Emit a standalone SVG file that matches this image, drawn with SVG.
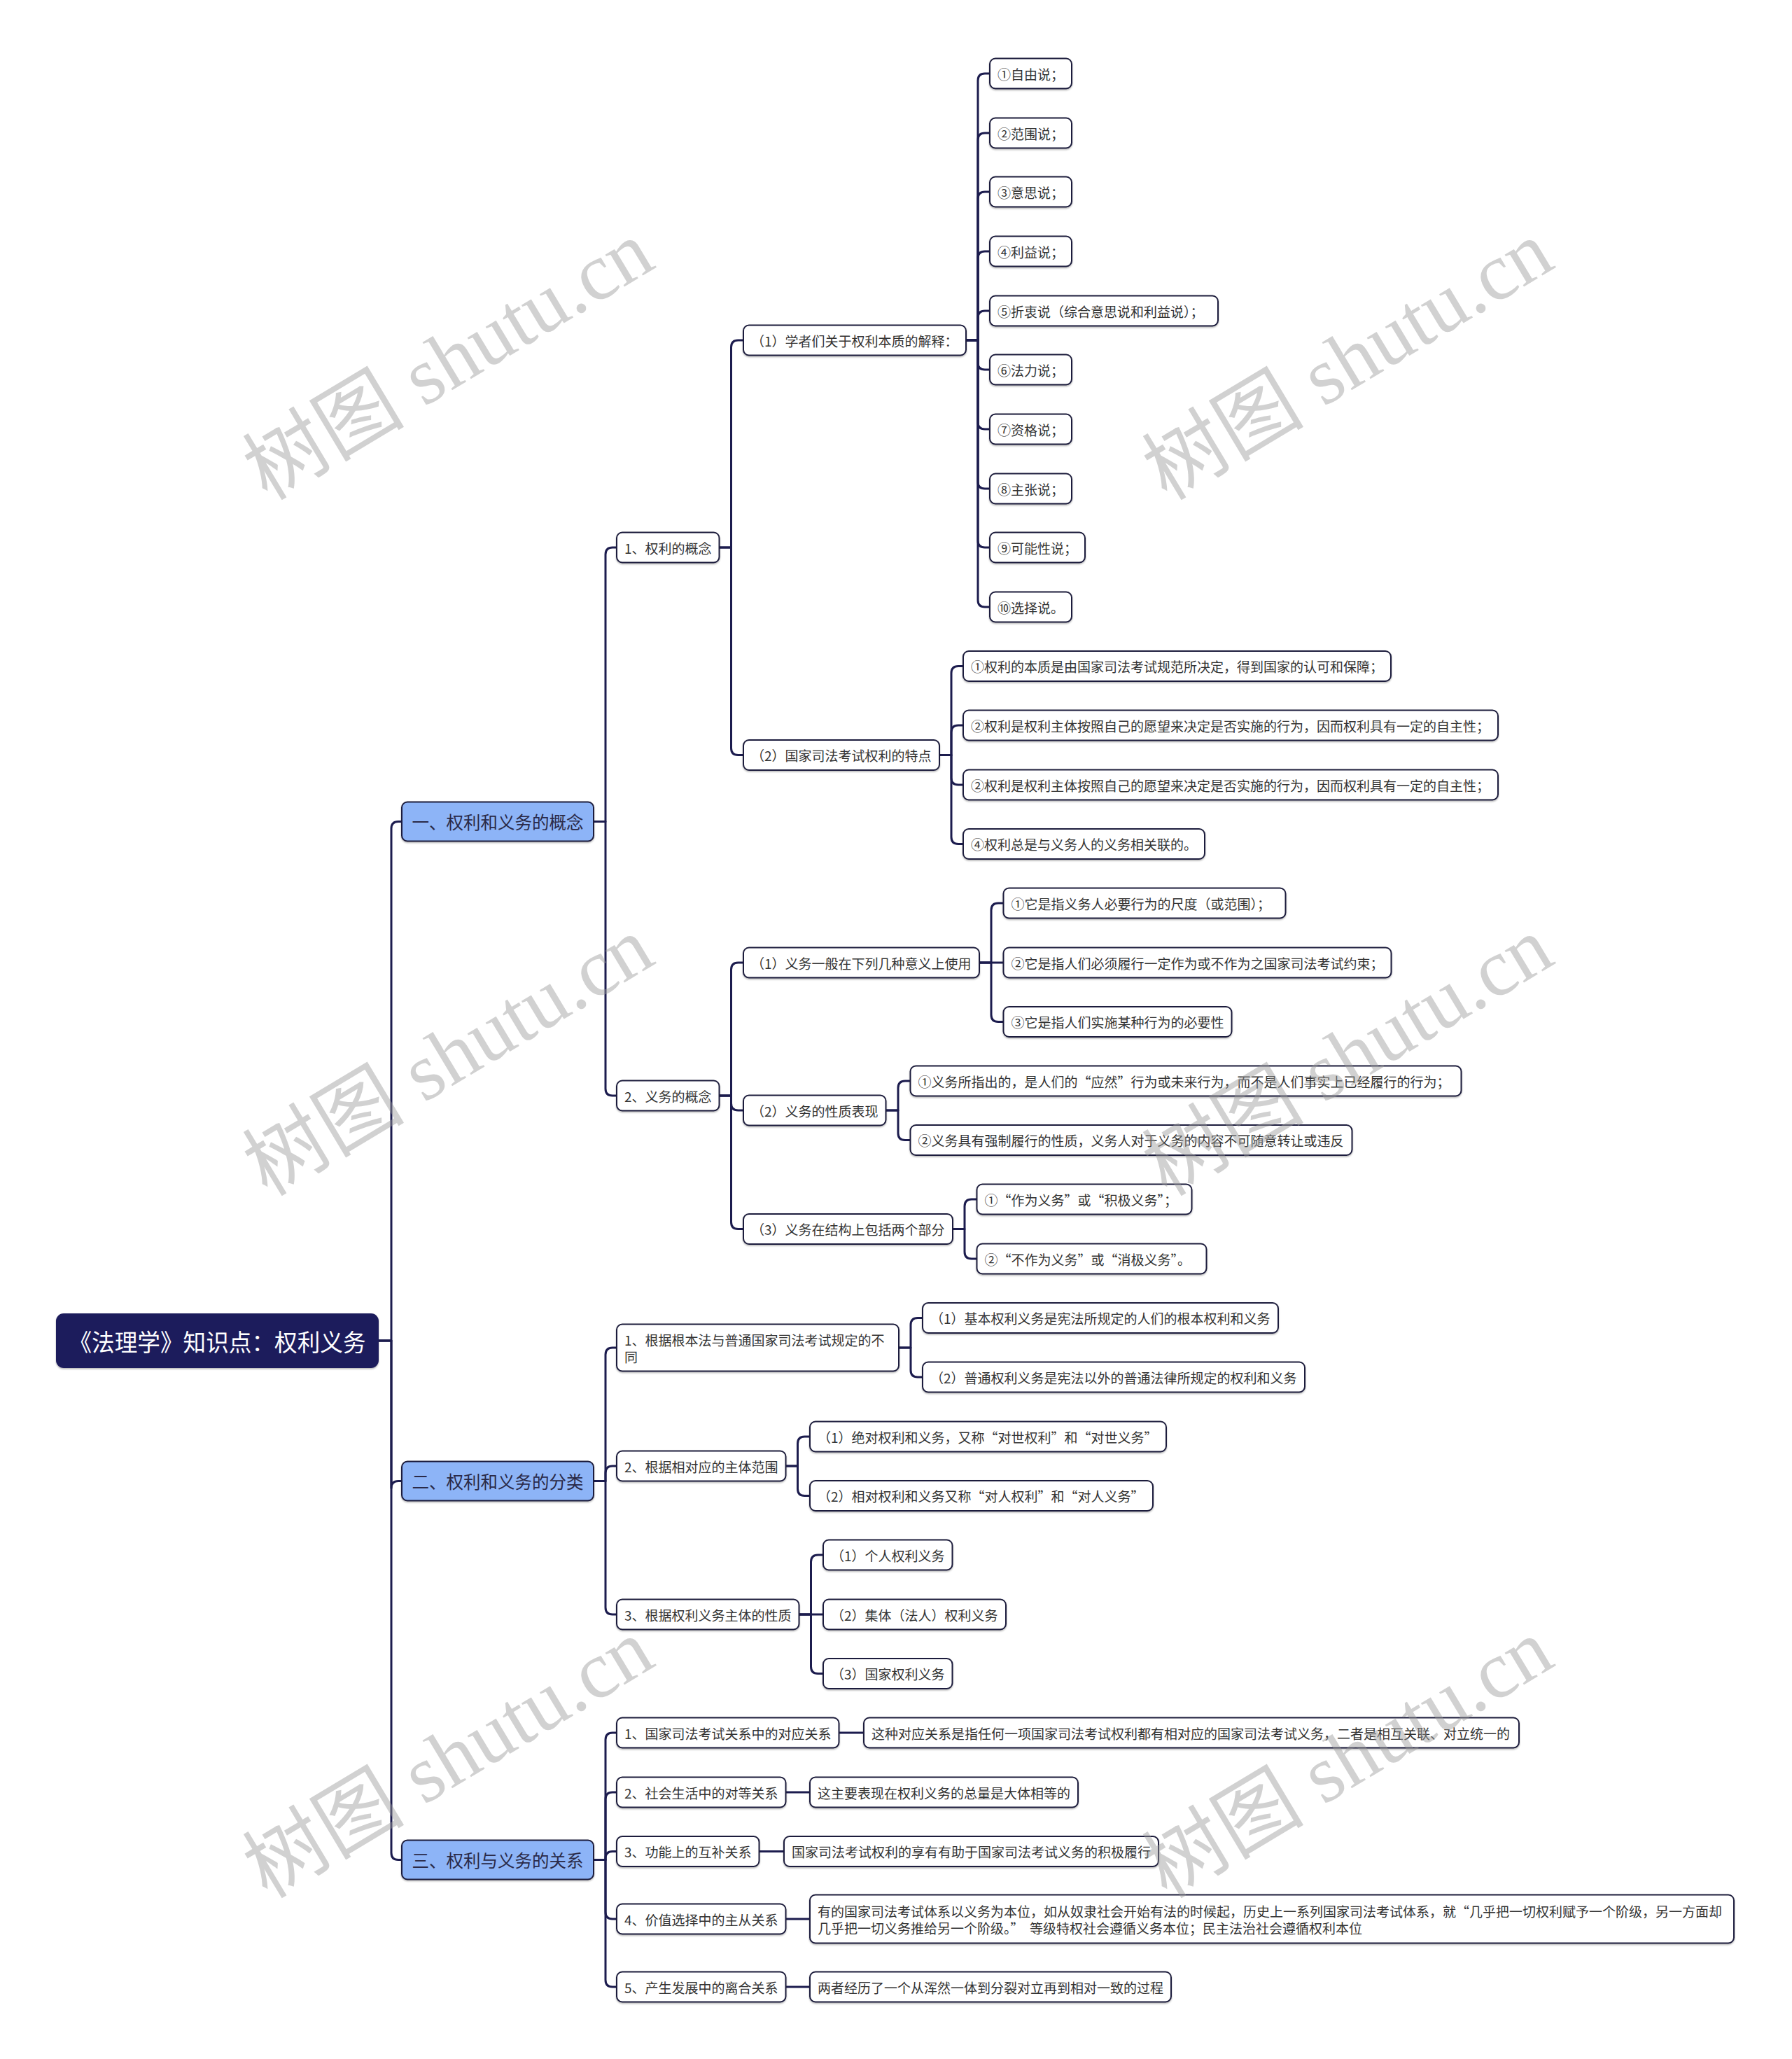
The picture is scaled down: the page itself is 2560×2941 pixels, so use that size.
<svg xmlns="http://www.w3.org/2000/svg" width="2560" height="2941" viewBox="0 0 2560 2941">
<defs>
<filter id="sh" x="-5%" y="-20%" width="110%" height="150%"><feDropShadow dx="0" dy="1.5" stdDeviation="1" flood-color="#000" flood-opacity="0.3"/></filter>
<style>
.n rect{fill:#fff;stroke:#1e1e3c;stroke-width:2;filter:url(#sh)}
.b rect{fill:#8db4f7;stroke:#1e1e3c;stroke-width:2;filter:url(#sh)}
.r rect{fill:#1d1b5b;stroke:#1d1b5b;stroke-width:2;filter:url(#sh)}
text{font-family:"Noto Sans CJK SC","Microsoft YaHei",sans-serif;dominant-baseline:central}
.n text{font-size:19px;fill:#333}
.b text{font-size:24.5px;fill:#2a2a48;text-anchor:middle}
.r text{font-size:34px;fill:#fff;text-anchor:middle}
.c path{fill:none;stroke:#1c1c4e;stroke-width:3;stroke-linejoin:round}
.wm text{font-family:"Liberation Serif","Noto Sans CJK SC",serif;font-size:116px;fill:#9a9a9a;opacity:0.45;text-anchor:middle;dominant-baseline:auto}
</style>
</defs>
<rect x="0" y="0" width="2560" height="2941" fill="#fff"/>
<g class="c" id="connectors">
<path d="M540 1915H559V1183.5Q559 1173.5 569 1173.5H574"/>
<path d="M540 1915H559V2125.5Q559 2115.5 569 2115.5H574"/>
<path d="M540 1915H559V2646.5Q559 2656.5 569 2656.5H574"/>
<path d="M848 1173.5H865V792Q865 782 875 782H881"/>
<path d="M848 1173.5H865V1555Q865 1565 875 1565H881"/>
<path d="M1027.5 782H1044.5V496Q1044.5 486 1054.5 486H1062"/>
<path d="M1027.5 782H1044.5V1068.5Q1044.5 1078.5 1054.5 1078.5H1062"/>
<path d="M1380 486H1397V115Q1397 105 1407 105H1414"/>
<path d="M1380 486H1397V200Q1397 190 1407 190H1414"/>
<path d="M1380 486H1397V284Q1397 274 1407 274H1414"/>
<path d="M1380 486H1397V369Q1397 359 1407 359H1414"/>
<path d="M1380 486H1397V454Q1397 444 1407 444H1414"/>
<path d="M1380 486H1397V518Q1397 528 1407 528H1414"/>
<path d="M1380 486H1397V603Q1397 613 1407 613H1414"/>
<path d="M1380 486H1397V688Q1397 698 1407 698H1414"/>
<path d="M1380 486H1397V772Q1397 782 1407 782H1414"/>
<path d="M1380 486H1397V857Q1397 867 1407 867H1414"/>
<path d="M1342 1078.5H1359V961.5Q1359 951.5 1369 951.5H1376"/>
<path d="M1342 1078.5H1359V1046Q1359 1036 1369 1036H1376"/>
<path d="M1342 1078.5H1359V1111Q1359 1121 1369 1121H1376"/>
<path d="M1342 1078.5H1359V1195.5Q1359 1205.5 1369 1205.5H1376"/>
<path d="M1027.5 1565H1044.5V1385Q1044.5 1375 1054.5 1375H1062"/>
<path d="M1027.5 1565H1044.5V1576Q1044.5 1586 1054.5 1586H1062"/>
<path d="M1027.5 1565H1044.5V1745.5Q1044.5 1755.5 1054.5 1755.5H1062"/>
<path d="M1399 1375H1416V1300Q1416 1290 1426 1290H1433.5"/>
<path d="M1399 1375H1433.5"/>
<path d="M1399 1375H1416V1449.5Q1416 1459.5 1426 1459.5H1433.5"/>
<path d="M1265.5 1586H1283V1554Q1283 1544 1293 1544H1300.5"/>
<path d="M1265.5 1586H1283V1618.5Q1283 1628.5 1293 1628.5H1300.5"/>
<path d="M1361 1755.5H1378V1723Q1378 1713 1388 1713H1395.5"/>
<path d="M1361 1755.5H1378V1788Q1378 1798 1388 1798H1395.5"/>
<path d="M848 2115.5H865V1935Q865 1925 875 1925H881"/>
<path d="M848 2115.5H865V2104Q865 2094 875 2094H881"/>
<path d="M848 2115.5H865V2296Q865 2306 875 2306H881"/>
<path d="M1284 1925H1301V1892.5Q1301 1882.5 1311 1882.5H1318"/>
<path d="M1284 1925H1301V1957Q1301 1967 1311 1967H1318"/>
<path d="M1122.5 2094H1139.5V2062Q1139.5 2052 1149.5 2052H1157"/>
<path d="M1122.5 2094H1139.5V2126.5Q1139.5 2136.5 1149.5 2136.5H1157"/>
<path d="M1141.5 2306H1158.5V2231Q1158.5 2221 1168.5 2221H1176"/>
<path d="M1141.5 2306H1176"/>
<path d="M1141.5 2306H1158.5V2380.5Q1158.5 2390.5 1168.5 2390.5H1176"/>
<path d="M848 2656.5H865V2485Q865 2475 875 2475H881"/>
<path d="M848 2656.5H865V2570Q865 2560 875 2560H881"/>
<path d="M848 2656.5H865V2654.5Q865 2644.5 875 2644.5H881"/>
<path d="M848 2656.5H865V2731Q865 2741 875 2741H881"/>
<path d="M848 2656.5H865V2828Q865 2838 875 2838H881"/>
<path d="M1198.5 2475H1234"/>
<path d="M1122.5 2560H1157"/>
<path d="M1084.5 2644.5H1120"/>
<path d="M1122.5 2741H1157"/>
<path d="M1122.5 2838H1157"/>
</g>
<g class="r" id="root"><rect x="81" y="1877" width="459" height="76" rx="10"/><text x="310.5" y="1915" textLength="424" lengthAdjust="spacingAndGlyphs">《法理学》知识点：权利义务</text></g>
<g class="b" id="n1"><rect x="574" y="1145.5" width="274" height="56" rx="8"/><text x="711" y="1173.5">一、权利和义务的概念</text></g>
<g class="b" id="n2"><rect x="574" y="2087.5" width="274" height="56" rx="8"/><text x="711" y="2115.5">二、权利和义务的分类</text></g>
<g class="b" id="n3"><rect x="574" y="2628.5" width="274" height="56" rx="8"/><text x="711" y="2656.5">三、权利与义务的关系</text></g>
<g class="n" id="n1-1"><rect x="881" y="760.5" width="146.5" height="43" rx="8"/><text x="892" y="782">1、权利的概念</text></g>
<g class="n" id="n1-2"><rect x="881" y="1543.5" width="146.5" height="43" rx="8"/><text x="892" y="1565">2、义务的概念</text></g>
<g class="n" id="n1-1-1"><rect x="1062" y="464.5" width="318" height="43" rx="8"/><text x="1073" y="486">（1）学者们关于权利本质的解释：</text></g>
<g class="n" id="n1-1-2"><rect x="1062" y="1057" width="280" height="43" rx="8"/><text x="1073" y="1078.5">（2）国家司法考试权利的特点</text></g>
<g class="n" id="a1"><rect x="1414" y="83.5" width="117" height="43" rx="8"/><text x="1425" y="105">①自由说；</text></g>
<g class="n" id="a2"><rect x="1414" y="168.5" width="117" height="43" rx="8"/><text x="1425" y="190">②范围说；</text></g>
<g class="n" id="a3"><rect x="1414" y="252.5" width="117" height="43" rx="8"/><text x="1425" y="274">③意思说；</text></g>
<g class="n" id="a4"><rect x="1414" y="337.5" width="117" height="43" rx="8"/><text x="1425" y="359">④利益说；</text></g>
<g class="n" id="a5"><rect x="1414" y="422.5" width="326" height="43" rx="8"/><text x="1425" y="444">⑤折衷说（综合意思说和利益说）；</text></g>
<g class="n" id="a6"><rect x="1414" y="506.5" width="117" height="43" rx="8"/><text x="1425" y="528">⑥法力说；</text></g>
<g class="n" id="a7"><rect x="1414" y="591.5" width="117" height="43" rx="8"/><text x="1425" y="613">⑦资格说；</text></g>
<g class="n" id="a8"><rect x="1414" y="676.5" width="117" height="43" rx="8"/><text x="1425" y="698">⑧主张说；</text></g>
<g class="n" id="a9"><rect x="1414" y="760.5" width="136" height="43" rx="8"/><text x="1425" y="782">⑨可能性说；</text></g>
<g class="n" id="a10"><rect x="1414" y="845.5" width="117" height="43" rx="8"/><text x="1425" y="867">⑩选择说。</text></g>
<g class="n" id="b1"><rect x="1376" y="930" width="611" height="43" rx="8"/><text x="1387" y="951.5">①权利的本质是由国家司法考试规范所决定，得到国家的认可和保障；</text></g>
<g class="n" id="b2"><rect x="1376" y="1014.5" width="764" height="43" rx="8"/><text x="1387" y="1036">②权利是权利主体按照自己的愿望来决定是否实施的行为，因而权利具有一定的自主性；</text></g>
<g class="n" id="b3"><rect x="1376" y="1099.5" width="764" height="43" rx="8"/><text x="1387" y="1121">②权利是权利主体按照自己的愿望来决定是否实施的行为，因而权利具有一定的自主性；</text></g>
<g class="n" id="b4"><rect x="1376" y="1184" width="345" height="43" rx="8"/><text x="1387" y="1205.5">④权利总是与义务人的义务相关联的。</text></g>
<g class="n" id="n1-2-1"><rect x="1062" y="1353.5" width="337" height="43" rx="8"/><text x="1073" y="1375">（1）义务一般在下列几种意义上使用</text></g>
<g class="n" id="n1-2-2"><rect x="1062" y="1564.5" width="203.5" height="43" rx="8"/><text x="1073" y="1586">（2）义务的性质表现</text></g>
<g class="n" id="n1-2-3"><rect x="1062" y="1734" width="299" height="43" rx="8"/><text x="1073" y="1755.5">（3）义务在结构上包括两个部分</text></g>
<g class="n" id="c1"><rect x="1433.5" y="1268.5" width="403" height="43" rx="8"/><text x="1444.5" y="1290">①它是指义务人必要行为的尺度（或范围）；</text></g>
<g class="n" id="c2"><rect x="1433.5" y="1353.5" width="554" height="43" rx="8"/><text x="1444.5" y="1375">②它是指人们必须履行一定作为或不作为之国家司法考试约束；</text></g>
<g class="n" id="c3"><rect x="1433.5" y="1438" width="326" height="43" rx="8"/><text x="1444.5" y="1459.5">③它是指人们实施某种行为的必要性</text></g>
<g class="n" id="d1"><rect x="1300.5" y="1522.5" width="787" height="43" rx="8"/><text x="1311.5" y="1544">①义务所指出的，是人们的“应然”行为或未来行为，而不是人们事实上已经履行的行为；</text></g>
<g class="n" id="d2"><rect x="1300.5" y="1607" width="631" height="43" rx="8"/><text x="1311.5" y="1628.5">②义务具有强制履行的性质，义务人对于义务的内容不可随意转让或违反</text></g>
<g class="n" id="e1"><rect x="1395.5" y="1691.5" width="307" height="43" rx="8"/><text x="1406.5" y="1713">①“作为义务”或“积极义务”；</text></g>
<g class="n" id="e2"><rect x="1395.5" y="1776.5" width="328" height="43" rx="8"/><text x="1406.5" y="1798">②“不作为义务”或“消极义务”。</text></g>
<g class="n" id="n2-1"><rect x="881" y="1891.5" width="403" height="67" rx="8"/><text x="892" y="1913">1、根据根本法与普通国家司法考试规定的不</text><text x="892" y="1937">同</text></g>
<g class="n" id="n2-2"><rect x="881" y="2072.5" width="241.5" height="43" rx="8"/><text x="892" y="2094">2、根据相对应的主体范围</text></g>
<g class="n" id="n2-3"><rect x="881" y="2284.5" width="260.5" height="43" rx="8"/><text x="892" y="2306">3、根据权利义务主体的性质</text></g>
<g class="n" id="f1"><rect x="1318" y="1861" width="508" height="43" rx="8"/><text x="1329" y="1882.5">（1）基本权利义务是宪法所规定的人们的根本权利和义务</text></g>
<g class="n" id="f2"><rect x="1318" y="1945.5" width="546" height="43" rx="8"/><text x="1329" y="1967">（2）普通权利义务是宪法以外的普通法律所规定的权利和义务</text></g>
<g class="n" id="g1"><rect x="1157" y="2030.5" width="509" height="43" rx="8"/><text x="1168" y="2052">（1）绝对权利和义务，又称“对世权利”和“对世义务”</text></g>
<g class="n" id="g2"><rect x="1157" y="2115" width="490" height="43" rx="8"/><text x="1168" y="2136.5">（2）相对权利和义务又称“对人权利”和“对人义务”</text></g>
<g class="n" id="h1"><rect x="1176" y="2199.5" width="184.5" height="43" rx="8"/><text x="1187" y="2221">（1）个人权利义务</text></g>
<g class="n" id="h2"><rect x="1176" y="2284.5" width="261" height="43" rx="8"/><text x="1187" y="2306">（2）集体（法人）权利义务</text></g>
<g class="n" id="h3"><rect x="1176" y="2369" width="184.5" height="43" rx="8"/><text x="1187" y="2390.5">（3）国家权利义务</text></g>
<g class="n" id="n3-1"><rect x="881" y="2453.5" width="317.5" height="43" rx="8"/><text x="892" y="2475">1、国家司法考试关系中的对应关系</text></g>
<g class="n" id="n3-2"><rect x="881" y="2538.5" width="241.5" height="43" rx="8"/><text x="892" y="2560">2、社会生活中的对等关系</text></g>
<g class="n" id="n3-3"><rect x="881" y="2623" width="203.5" height="43" rx="8"/><text x="892" y="2644.5">3、功能上的互补关系</text></g>
<g class="n" id="n3-4"><rect x="881" y="2719.5" width="241.5" height="43" rx="8"/><text x="892" y="2741">4、价值选择中的主从关系</text></g>
<g class="n" id="n3-5"><rect x="881" y="2816.5" width="241.5" height="43" rx="8"/><text x="892" y="2838">5、产生发展中的离合关系</text></g>
<g class="n" id="k1"><rect x="1234" y="2453.5" width="936" height="43" rx="8"/><text x="1245" y="2475">这种对应关系是指任何一项国家司法考试权利都有相对应的国家司法考试义务，二者是相互关联、对立统一的</text></g>
<g class="n" id="k2"><rect x="1157" y="2538.5" width="383" height="43" rx="8"/><text x="1168" y="2560">这主要表现在权利义务的总量是大体相等的</text></g>
<g class="n" id="k3"><rect x="1120" y="2623" width="535" height="43" rx="8"/><text x="1131" y="2644.5">国家司法考试权利的享有有助于国家司法考试义务的积极履行</text></g>
<g class="n" id="k4"><rect x="1157" y="2706.5" width="1320" height="69" rx="8"/><text x="1168" y="2729">有的国家司法考试体系以义务为本位，如从奴隶社会开始有法的时候起，历史上一系列国家司法考试体系，就“几乎把一切权利赋予一个阶级，另一方面却</text><text x="1168" y="2753">几乎把一切义务推给另一个阶级。”&#160;&#160;等级特权社会遵循义务本位；民主法治社会遵循权利本位</text></g>
<g class="n" id="k5"><rect x="1157" y="2816.5" width="516" height="43" rx="8"/><text x="1168" y="2838">两者经历了一个从浑然一体到分裂对立再到相对一致的过程</text></g>
<g class="wm" id="watermarks">
<text transform="translate(641,516) rotate(-31)" x="0" y="38">树图 shutu.cn</text>
<text transform="translate(1926,516) rotate(-31)" x="0" y="38">树图 shutu.cn</text>
<text transform="translate(641,1510) rotate(-31)" x="0" y="38">树图 shutu.cn</text>
<text transform="translate(1926,1510) rotate(-31)" x="0" y="38">树图 shutu.cn</text>
<text transform="translate(641,2513) rotate(-31)" x="0" y="38">树图 shutu.cn</text>
<text transform="translate(1926,2513) rotate(-31)" x="0" y="38">树图 shutu.cn</text>
</g>
</svg>
